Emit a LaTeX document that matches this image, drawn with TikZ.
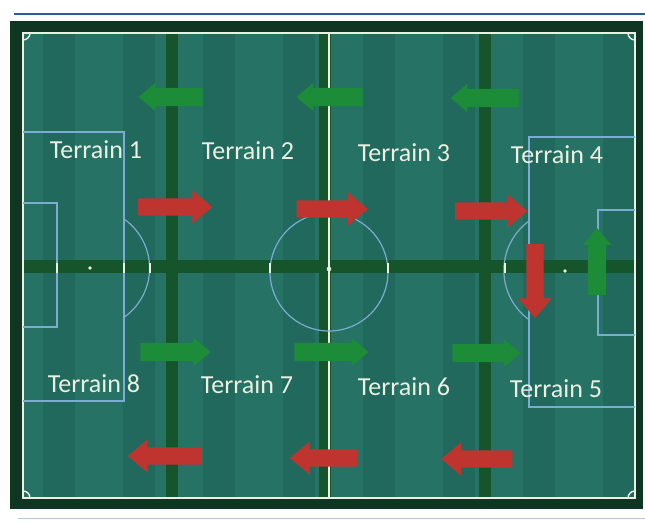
\documentclass[tikz,border=0pt]{standalone}
\usepackage{fontspec}
\setmainfont{Carlito}
\usetikzlibrary{shapes.arrows}

\definecolor{pitch}{RGB}{38,114,100}
\definecolor{pitchband}{RGB}{30,100,88}
\definecolor{stripe}{RGB}{22,84,44}
\definecolor{framecol}{RGB}{14,54,34}
\definecolor{linewhite}{RGB}{236,240,226}
\definecolor{lineblue}{RGB}{125,172,210}
\definecolor{redarr}{RGB}{192,52,48}
\definecolor{greenarr}{RGB}{28,140,56}
\definecolor{topblue}{RGB}{40,92,150}

\tikzset{
  bigarrow/.style={single arrow, draw=none, inner xsep=0pt, minimum width=0pt,
    single arrow tip angle=80, text width=0pt, minimum height=#1},
  redarrow/.style={bigarrow=#1, fill=redarr, inner ysep=8.5pt, single arrow head extend=8pt},
  greenarrow/.style={bigarrow=#1, fill=greenarr, inner ysep=9pt, single arrow head extend=5pt},
  terrain/.style={text=linewhite, inner sep=0pt, font=\fontsize{26}{30}\selectfont},
  whiteline/.style={draw=linewhite, line width=1.4pt},
  blueline/.style={draw=lineblue, line width=1.2pt},
}

\begin{document}
\begin{tikzpicture}[x=1pt,y=-1pt]
\useasboundingbox (0,0) rectangle (645,522);
\fill[white] (0,0) rectangle (645,522);
\draw[topblue, line width=2.2pt] (14,14) -- (645,14);
\draw[topblue!35, line width=1pt] (18,518) -- (645,518);

% frame and pitch
\fill[framecol] (10,21) rectangle (643,509);
\fill[pitch] (23,33) rectangle (635,498);
\foreach \x in {43,123,203,283,363,443,523,603}
  \fill[pitchband, opacity=0.6] (\x,33) rectangle (\x+32,498);

% dark grass stripes
\fill[stripe] (166,33) rectangle (178,498);
\fill[stripe] (319,33) rectangle (331,498);
\fill[stripe] (479,33) rectangle (491,498);
\fill[stripe] (23,260) rectangle (635,273);

% touchline and halfway line
\draw[whiteline] (23,33) rectangle (635,498);
\draw[whiteline] (329,33) -- (329,498);

% corner arcs
\draw[whiteline] (23,40) arc[start angle=90, end angle=0, radius=7];
\draw[whiteline] (628,33) arc[start angle=180, end angle=90, radius=7];
\draw[whiteline] (30,498) arc[start angle=0, end angle=-90, radius=7];
\draw[whiteline] (635,491) arc[start angle=-90, end angle=-180, radius=7];

% centre circle
\draw[blueline] (329,272) circle[radius=59];

% left penalty area, goal area, arc
\draw[blueline] (23,132) -- (124,132) -- (124,401) -- (23,401);
\draw[blueline] (23,203) -- (57,203) -- (57,327) -- (23,327);
\draw[blueline] (124,219) arc[start angle=-55, end angle=55, radius=60];

% right penalty area, goal area, arc
\draw[blueline] (635,137) -- (529,137) -- (529,407) -- (635,407);
\draw[blueline] (635,210) -- (598,210) -- (598,335) -- (635,335);
\draw[blueline] (529,221) arc[start angle=-126, end angle=-234, radius=61];

% midline ticks and spots
\foreach \x in {57,124,150,270,388,505,529,598}
  \draw[linewhite, line width=1.2pt] (\x,263) -- (\x,273);
\fill[linewhite] (90,268) circle[radius=1.8];
\fill[linewhite] (329,269) circle[radius=2.3];
\fill[linewhite] (565,271) circle[radius=1.8];

% labels
\node[terrain] (t1) at (96,150) {Terrain 1};
\node[terrain] (t2) at (248,151) {Terrain 2};
\node[terrain] (t3) at (404,153) {Terrain 3};
\node[terrain] (t4) at (557,155) {Terrain 4};
\node[terrain] (t8) at (94,384) {Terrain 8};
\node[terrain] (t7) at (247,385) {Terrain 7};
\node[terrain] (t6) at (404,387) {Terrain 6};
\node[terrain] (t5) at (556,389) {Terrain 5};

% green arrows
\node[greenarrow=64, shape border rotate=180] (g1) at (176,97) {};
\node[greenarrow=66, shape border rotate=180] (g2) at (335,97) {};
\node[greenarrow=68, shape border rotate=180] (g3) at (490,98) {};
\node[greenarrow=67, rotate=90] (g4) at (597,267) {};
\node[greenarrow=70] (g5) at (170,352) {};
\node[greenarrow=74] (g6) at (326,352) {};
\node[greenarrow=68] (g7) at (481,353) {};

% red arrows
\node[redarrow=74] (r1) at (170,207) {};
\node[redarrow=71] (r2) at (327,209) {};
\node[redarrow=72] (r3) at (486,211) {};
\node[redarrow=74, rotate=-90] (r4) at (535,276) {};
\node[redarrow=74, shape border rotate=180] (r5) at (170,456) {};
\node[redarrow=68, shape border rotate=180] (r6) at (329,458) {};
\node[redarrow=71, shape border rotate=180] (r7) at (482,459) {};
\end{tikzpicture}
\end{document}
